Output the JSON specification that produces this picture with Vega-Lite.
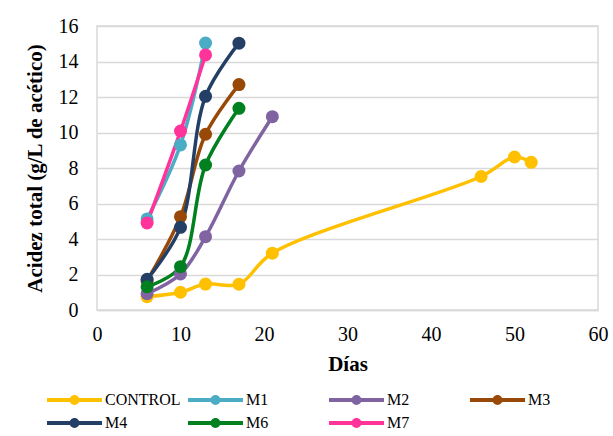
{
  "$schema": "https://vega.github.io/schema/vega-lite/v6.json",
  "width": 501,
  "height": 284,
  "autosize": {"type": "none"},
  "padding": {"left": 97, "top": 26, "right": 15, "bottom": 126},
  "background": "white",
  "config": {
    "view": {"stroke": "#d9d9d9", "strokeWidth": 1.5},
    "font": "Liberation Serif"
  },
  "data": {
    "values": [
      {"serie": "CONTROL", "dia": 6, "acidez": 0.75},
      {"serie": "CONTROL", "dia": 10, "acidez": 1.0},
      {"serie": "CONTROL", "dia": 13, "acidez": 1.46},
      {"serie": "CONTROL", "dia": 17, "acidez": 1.45},
      {"serie": "CONTROL", "dia": 21, "acidez": 3.2},
      {"serie": "CONTROL", "dia": 46, "acidez": 7.52},
      {"serie": "CONTROL", "dia": 50, "acidez": 8.62},
      {"serie": "CONTROL", "dia": 52, "acidez": 8.32},
      {"serie": "M1", "dia": 6, "acidez": 5.13},
      {"serie": "M1", "dia": 10, "acidez": 9.3},
      {"serie": "M1", "dia": 13, "acidez": 15.04},
      {"serie": "M2", "dia": 6, "acidez": 0.92},
      {"serie": "M2", "dia": 10, "acidez": 2.03},
      {"serie": "M2", "dia": 13, "acidez": 4.13},
      {"serie": "M2", "dia": 17, "acidez": 7.83},
      {"serie": "M2", "dia": 21, "acidez": 10.89},
      {"serie": "M3", "dia": 6, "acidez": 1.65},
      {"serie": "M3", "dia": 10, "acidez": 5.26},
      {"serie": "M3", "dia": 13, "acidez": 9.9},
      {"serie": "M3", "dia": 17, "acidez": 12.7},
      {"serie": "M4", "dia": 6, "acidez": 1.73},
      {"serie": "M4", "dia": 10, "acidez": 4.66},
      {"serie": "M4", "dia": 13, "acidez": 12.04},
      {"serie": "M4", "dia": 17, "acidez": 15.03},
      {"serie": "M6", "dia": 6, "acidez": 1.31},
      {"serie": "M6", "dia": 10, "acidez": 2.44},
      {"serie": "M6", "dia": 13, "acidez": 8.17},
      {"serie": "M6", "dia": 17, "acidez": 11.36},
      {"serie": "M7", "dia": 6, "acidez": 4.9},
      {"serie": "M7", "dia": 10, "acidez": 10.08},
      {"serie": "M7", "dia": 13, "acidez": 14.37}
    ]
  },
  "encoding": {
    "x": {
      "field": "dia", "type": "quantitative",
      "scale": {"domain": [0, 60], "nice": false},
      "axis": {
        "title": "Días", "values": [0, 10, 20, 30, 40, 50, 60],
        "grid": false, "ticks": false, "domainColor": "#d9d9d9", "domainWidth": 1.5,
        "labelFont": "Liberation Serif", "labelFontSize": 20, "labelColor": "black",
        "labelPadding": 14, "labelFlush": false,
        "titleFont": "Liberation Serif", "titleFontSize": 21, "titleFontWeight": "bold",
        "titleColor": "black", "titlePadding": 9
      }
    },
    "y": {
      "field": "acidez", "type": "quantitative",
      "scale": {"domain": [0, 16], "nice": false},
      "axis": {
        "title": "Acidez total (g/L de acético)",
        "values": [0, 2, 4, 6, 8, 10, 12, 14, 16],
        "grid": true, "gridColor": "#d9d9d9", "gridWidth": 1.5,
        "ticks": false, "domain": false,
        "labelFont": "Liberation Serif", "labelFontSize": 20, "labelColor": "black",
        "labelPadding": 19,
        "titleFont": "Liberation Serif", "titleFontSize": 21, "titleFontWeight": "bold",
        "titleColor": "black", "titlePadding": 13
      }
    },
    "color": {
      "field": "serie", "type": "nominal",
      "scale": {
        "domain": ["CONTROL", "M1", "M2", "M3", "M4", "M6", "M7"],
        "range": ["#ffc000", "#4bacc6", "#8064a2", "#984807", "#243f66", "#00801e", "#ff3399"]
      },
      "legend": {
        "title": null,
        "orient": "none",
        "legendX": -50,
        "legendY": 363,
        "direction": "horizontal",
        "columns": 4,
        "gridAlign": "all",
        "columnPadding": 7,
        "rowPadding": 1,
        "padding": 0,
        "clipHeight": 22,
        "symbolType": "M-1,-0.073H-0.17V0.073H-1Z M0.17,-0.073H1V0.073H0.17Z M0.18,0A0.18,0.18 0 1,1 -0.18,0A0.18,0.18 0 1,1 0.18,0Z",
        "symbolSize": 3025,
        "symbolStrokeWidth": 0,
        "labelFont": "Liberation Serif",
        "labelFontSize": 16,
        "labelColor": "black",
        "labelOffset": 3,
        "encode": {
          "symbols": {
            "update": {
              "fill": {"scale": "color", "field": "value"},
              "stroke": {"value": "transparent"},
              "opacity": {"value": 1}
            }
          }
        }
      }
    }
  },
  "layer": [
    {
      "mark": {"type": "line", "interpolate": "catmull-rom", "strokeWidth": 3.5}
    },
    {
      "mark": {"type": "point", "shape": "circle", "filled": true, "size": 169, "opacity": 1}
    }
  ]
}
